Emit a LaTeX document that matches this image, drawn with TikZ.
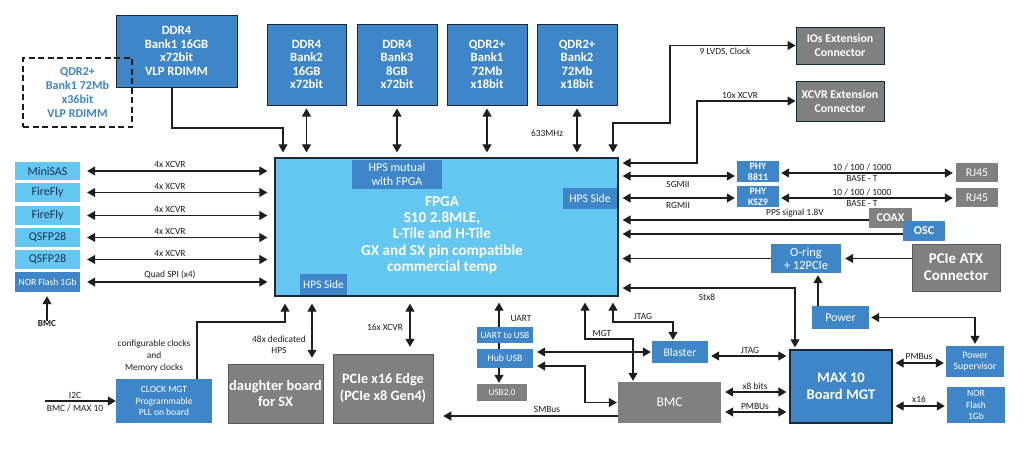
\documentclass[tikz,border=0pt]{standalone}
\usepackage{fontspec}
\setmainfont{Carlito}
\usetikzlibrary{arrows.meta}
\definecolor{cBlue}{RGB}{62,134,200}
\definecolor{cLight}{RGB}{99,199,242}
\definecolor{cGray}{RGB}{128,128,128}
\definecolor{cDark}{RGB}{28,40,56}
\definecolor{cLine}{RGB}{30,30,30}
\definecolor{cNavy}{RGB}{30,50,80}
\newcommand\myfs[2]{\fontsize{\fpeval{#1*1.15}}{#2}\selectfont}
\begin{document}
\begin{tikzpicture}[x=1pt,y=-1pt,
  box/.style={inner sep=0pt,align=center,text=white},
  bb/.style={box,fill=cBlue},
  gb/.style={box,fill=cGray},
  mem/.style={bb,draw=cDark,line width=1pt,font=\bfseries\myfs{11}{13.5}},
  lb/.style={box,fill=cLight,text=cNavy,font=\myfs{10.4}{12},minimum width=65pt},
  lab/.style={inner sep=0pt,align=center,text=cLine,font=\myfs{8.2}{11}},
  arr/.style={-{Triangle[length=8pt,width=9pt]},line width=1.1pt,draw=cLine},
  dbl/.style={{Triangle[length=8pt,width=9pt]}-{Triangle[length=8pt,width=9pt]},line width=1.1pt,draw=cLine},
  ln/.style={line width=1.1pt,draw=cLine},
]
\useasboundingbox[fill=white] (0,0) rectangle (1024,448);

% ---------- memory boxes ----------
\node[mem,minimum width=121pt,minimum height=72pt] (ddr1) at (176.5,51) {DDR4\\Bank1 16GB\\x72bit\\VLP RDIMM};
\node[draw=cLine,dash pattern=on 6pt off 3.5pt,line width=1.3pt,inner sep=0pt,align=center,text=cBlue,font=\bfseries\myfs{10.5}{14},minimum width=109pt,minimum height=69pt] (qdr36) at (77.5,92.5) {QDR2+\\Bank1 72Mb\\x36bit\\VLP RDIMM};
\node[mem,minimum width=79pt,minimum height=81pt] (ddr2) at (306.5,64.5) {DDR4\\Bank2\\16GB\\x72bit};
\node[mem,minimum width=80pt,minimum height=81pt] (ddr3) at (397,64.5) {DDR4\\Bank3\\8GB\\x72bit};
\node[mem,minimum width=80pt,minimum height=81pt] (qdr1) at (487,64.5) {QDR2+\\Bank1\\72Mb\\x18bit};
\node[mem,minimum width=80pt,minimum height=81pt] (qdr2) at (577,64.5) {QDR2+\\Bank2\\72Mb\\x18bit};

% ---------- FPGA ----------
\node[box,fill=cLight,draw=cDark,line width=1.3pt,minimum width=343pt,minimum height=138pt] (fpga) at (446.5,227) {};
\node[box,font=\bfseries\myfs{13.2}{16.3}] (fpgaT) at (442,235) {FPGA\\S10 2.8MLE,\\L-Tile and H-Tile\\GX and SX pin compatible\\commercial temp};
\node[bb,font=\myfs{10.5}{14},minimum width=90pt,minimum height=29pt] (hpsm) at (397,174) {HPS mutual\\with FPGA};
\node[bb,font=\myfs{10.2}{12},minimum width=54pt,minimum height=21pt] (hpsr) at (590,198.5) {HPS Side};
\node[bb,font=\myfs{10}{12},minimum width=47pt,minimum height=21pt] (hpsl) at (323.5,284.5) {HPS Side};

% ---------- left side ----------
\node[lb,minimum height=18pt] (mini) at (47.5,171) {MiniSAS};
\node[lb,minimum height=19pt] (ff1) at (47.5,192.5) {FireFly};
\node[lb,minimum height=19pt] (ff2) at (47.5,215.5) {FireFly};
\node[lb,minimum height=19pt] (qs1) at (47.5,237.5) {QSFP28};
\node[lb,minimum height=19pt] (qs2) at (47.5,259.5) {QSFP28};
\node[bb,font=\myfs{8.3}{12},minimum width=65pt,minimum height=20pt] (nor1) at (47.5,282) {NOR Flash 1Gb};
\node[lab,font=\bfseries\myfs{8}{10}] (bmcL) at (47,324) {BMC};

% ---------- top right ----------
\node[gb,draw=cDark,line width=1pt,font=\bfseries\myfs{10.3}{14},minimum width=88pt,minimum height=37pt] (ios) at (840,45.5) {IOs Extension\\Connector};
\node[gb,draw=cDark,line width=1pt,font=\bfseries\myfs{10.3}{14},minimum width=88pt,minimum height=40pt] (xcvr) at (840,101) {XCVR Extension\\Connector};

% ---------- right side ----------
\node[bb,font=\bfseries\myfs{8.6}{11},minimum width=42pt,minimum height=21pt] (phy1) at (758,171.5) {PHY\\8811};
\node[bb,font=\bfseries\myfs{8.6}{11},minimum width=42pt,minimum height=21pt] (phy2) at (758,196.5) {PHY\\KSZ9};
\node[gb,font=\myfs{10.3}{12},minimum width=42pt,minimum height=19pt] (rj1) at (977,172.5) {RJ45};
\node[gb,font=\myfs{10.3}{12},minimum width=42pt,minimum height=19pt] (rj2) at (977,197.5) {RJ45};
\node[gb,font=\bfseries\myfs{10.3}{12},minimum width=43pt,minimum height=20pt] (coax) at (890.5,218) {COAX};
\node[bb,font=\bfseries\myfs{10.5}{12},minimum width=42pt,minimum height=20pt] (osc) at (924,231) {OSC};
\node[bb,font=\myfs{10.8}{13},minimum width=70pt,minimum height=29pt] (oring) at (806,258.5) {O-ring\\+ 12PCIe};
\node[gb,draw=gray!70!black,line width=0.5pt,font=\bfseries\myfs{13}{17},minimum width=88pt,minimum height=47pt] (atx) at (956,267.5) {PCIe ATX\\Connector};
\node[bb,font=\myfs{10.3}{12},minimum width=57pt,minimum height=23pt] (power) at (840.5,317.5) {Power};
\node[bb,font=\myfs{8.6}{11},minimum width=58pt,minimum height=31pt] (psup) at (975,361.5) {Power\\Supervisor};
\node[bb,font=\myfs{8.3}{11.5},minimum width=58pt,minimum height=36pt] (nor2) at (976,405) {NOR\\Flash\\1Gb};
\node[bb,draw=cDark,line width=1.3pt,font=\bfseries\myfs{12.7}{17},minimum width=102pt,minimum height=73pt] (max10) at (841,386.5) {MAX 10\\Board MGT};

% ---------- bottom ----------
\node[bb,font=\myfs{10.2}{12},minimum width=56pt,minimum height=22pt] (blaster) at (680,352) {Blaster};
\node[gb,font=\myfs{11.7}{14},minimum width=103pt,minimum height=41pt] (bmc) at (669.5,402.5) {BMC};
\node[gb,draw=gray!70!black,line width=0.5pt,font=\bfseries\myfs{12.4}{17},minimum width=100pt,minimum height=69pt] (pcie16) at (383,388.5) {PCIe x16 Edge\\(PCIe x8 Gen4)};
\node[bb,font=\myfs{8.2}{12},minimum width=56pt,minimum height=16pt] (uart) at (505,335) {UART to USB};
\node[bb,font=\myfs{8.5}{12},minimum width=56pt,minimum height=19pt] (hub) at (505,358.5) {Hub USB};
\node[gb,font=\myfs{8}{12},minimum width=50pt,minimum height=17pt] (usb2) at (502,392.5) {USB2.0};
\node[bb,font=\myfs{8.3}{11.5},minimum width=96pt,minimum height=44pt] (clock) at (164,401) {CLOCK MGT\\Programmable\\PLL on board};
\node[gb,draw=gray!70!black,line width=0.5pt,font=\bfseries\myfs{12.5}{15.5},minimum width=95pt,minimum height=59pt] (daughter) at (275.5,393.5) {daughter board\\for SX};

% ---------- connectors: top ----------
\draw[arr,shorten >=5pt] ([xshift=-4.5pt]ddr1.south) |- (283,128) -- (283,128 |- fpga.north);
\foreach \n in {ddr2,ddr3,qdr1,qdr2}
  \draw[dbl,shorten <=3pt,shorten >=5pt] (\n.south) -- (\n.south |- fpga.north);
\draw[dbl,shorten <=5pt] (613,123 |- fpga.north) -- (613,123) -- (670,123) |- (ios.west);
\node[lab] (l9) at (725,52) {9 LVDS, Clock};
\draw[dbl,shorten <=4pt] (fpga.east |- 697,163) -- (697,163) |- (xcvr.west);
\node[lab] (l10) at (740,95) {10x XCVR};
\node[lab] (l633) at (547,133) {633MHz};

% ---------- connectors: left ----------
\foreach \n/\t in {mini/4x XCVR,ff1/4x XCVR,ff2/4x XCVR,qs1/4x XCVR,qs2/4x XCVR,nor1/Quad SPI (x4)}{
  \draw[dbl,shorten <=7pt,shorten >=7pt] (\n.east) -- (\n.east -| fpga.west);
  \node[lab,anchor=south] at ([yshift=3pt]170,0 |- \n.east) {\t};
}
\draw[arr,shorten >=4pt] (bmcL.north) -- (bmcL.north |- nor1.south);

% ---------- connectors: right ----------
\draw[dbl,shorten <=4pt,shorten >=2pt] (fpga.east |- 0,176) -- (phy1.west |- 0,176);
\node[lab] (lsg) at (678,184) {SGMII};
\draw[dbl,shorten <=4pt,shorten >=2pt] (fpga.east |- 0,198) -- (phy2.west |- 0,198);
\node[lab] (lrg) at (678,205) {RGMII};
\draw[dbl,shorten <=2pt,shorten >=3pt] (phy1.east |- 0,173) -- (rj1.west |- 0,173);
\node[lab] (lb1a) at (862,167) {10 / 100 / 1000};
\node[lab] (lb1b) at (862,178.5) {BASE - T};
\draw[dbl,shorten <=2pt,shorten >=3pt] (phy2.east |- 0,198) -- (rj2.west |- 0,198);
\node[lab] (lb2a) at (862,192) {10 / 100 / 1000};
\node[lab] (lb2b) at (862,203.5) {BASE - T};
\draw[arr,shorten >=4pt] (coax.west |- 0,220) -- (fpga.east |- 0,220);
\node[lab] (lpps) at (795,213) {PPS signal 1.8V};
\draw[arr,shorten >=4pt] (osc.west |- 0,234) -- (fpga.east |- 0,234);
\draw[arr,shorten >=4pt] (oring.west) -- (fpga.east |- oring.west);
\draw[arr,shorten >=4pt] (atx.west |- oring.east) -- (oring.east);
\draw[arr,shorten >=2pt] (power.north -| 818,0) -- (oring.south -| 818,0);
\draw[dbl,shorten <=2pt,shorten >=2pt] (power.east) -| (975,0 |- psup.north);
\draw[dbl,shorten <=4pt,shorten >=2pt] (fpga.east |- 0,288) -- (795,288) -- (max10.north -| 795,0);
\node[lab] (lstx) at (707,297) {Stx8};

% ---------- connectors: bottom ----------
\draw[arr,shorten >=7pt] ([xshift=33pt]clock.north) |- (285,322) -- (285,322 |- fpga.south);
\node[lab,font=\myfs{8.2}{12}] (lclk) at (154,356) {configurable clocks\\and\\Memory clocks};
\coordinate (i2c) at (45,401);
\draw[arr] (i2c) -- (clock.west |- i2c);
\node[lab] (li2c1) at (75,395) {I2C};
\node[lab] (li2c2) at (75,408) {BMC / MAX 10};
\draw[dbl,shorten <=7pt,shorten >=6pt] (fpga.south -| 312,0) -- (daughter.north -| 312,0);
\node[lab] (l48) at (279,345) {48x dedicated\\HPS};
\draw[dbl,shorten <=7pt,shorten >=7pt] (fpga.south -| 410,0) -- (pcie16.north -| 410,0);
\node[lab] (l16) at (385,327) {16x XCVR};
\draw[arr,shorten >=6pt] (uart.north -| 499,0) -- (fpga.south -| 499,0);
\draw[ln] (uart.south -| 499,0) -- (hub.north -| 499,0);
\draw[arr,shorten >=1pt] (hub.south -| 499,0) -- (usb2.north -| 499,0);
\node[lab] (luart) at (521,318) {UART};
\draw[dbl,shorten <=4pt,shorten >=1pt] (hub.east |- blaster.west) -- (blaster.west);
\draw[dbl,shorten <=4pt,shorten >=1pt] (hub.east |- 0,366) -- (585,366) |- (bmc.west);
\draw[dbl,shorten <=6pt,shorten >=1pt] (fpga.south -| 585,0) -- (585,339) -| (bmc.north -| 633,0);
\node[lab] (lmgt) at (602,333) {MGT};
\draw[dbl,shorten <=6pt,shorten >=1pt] (fpga.south -| 613,0) |- (673,322) -- (blaster.north -| 673,0);
\node[lab] (ljt1) at (643,316) {JTAG};
\draw[arr,shorten >=10pt] (bmc.west |- 0,416) -- (pcie16.east |- 0,416);
\node[lab] (lsmb) at (547,409) {SMBus};
\draw[dbl,shorten <=3pt,shorten >=3pt] (blaster.east |- 0,356) -- (max10.west |- 0,356);
\node[lab] (ljt2) at (750,350) {JTAG};
\draw[dbl,shorten <=4pt,shorten >=3pt] (bmc.east |- 0,392) -- (max10.west |- 0,392);
\node[lab] (lx8) at (755,386) {x8 bits};
\draw[dbl,shorten <=4pt,shorten >=3pt] (bmc.east |- 0,412) -- (max10.west |- 0,412);
\node[lab] (lpmb) at (755,406) {PMBUs};
\draw[dbl,shorten <=3pt,shorten >=2pt] (max10.east |- 0,363) -- (psup.west |- 0,363);
\node[lab] (lpmb2) at (919,356) {PMBus};
\draw[dbl,shorten <=3pt,shorten >=2pt] (max10.east |- 0,406) -- (nor2.west |- 0,406);
\node[lab] (lx16) at (919,399) {x16};
\end{tikzpicture}
\end{document}
